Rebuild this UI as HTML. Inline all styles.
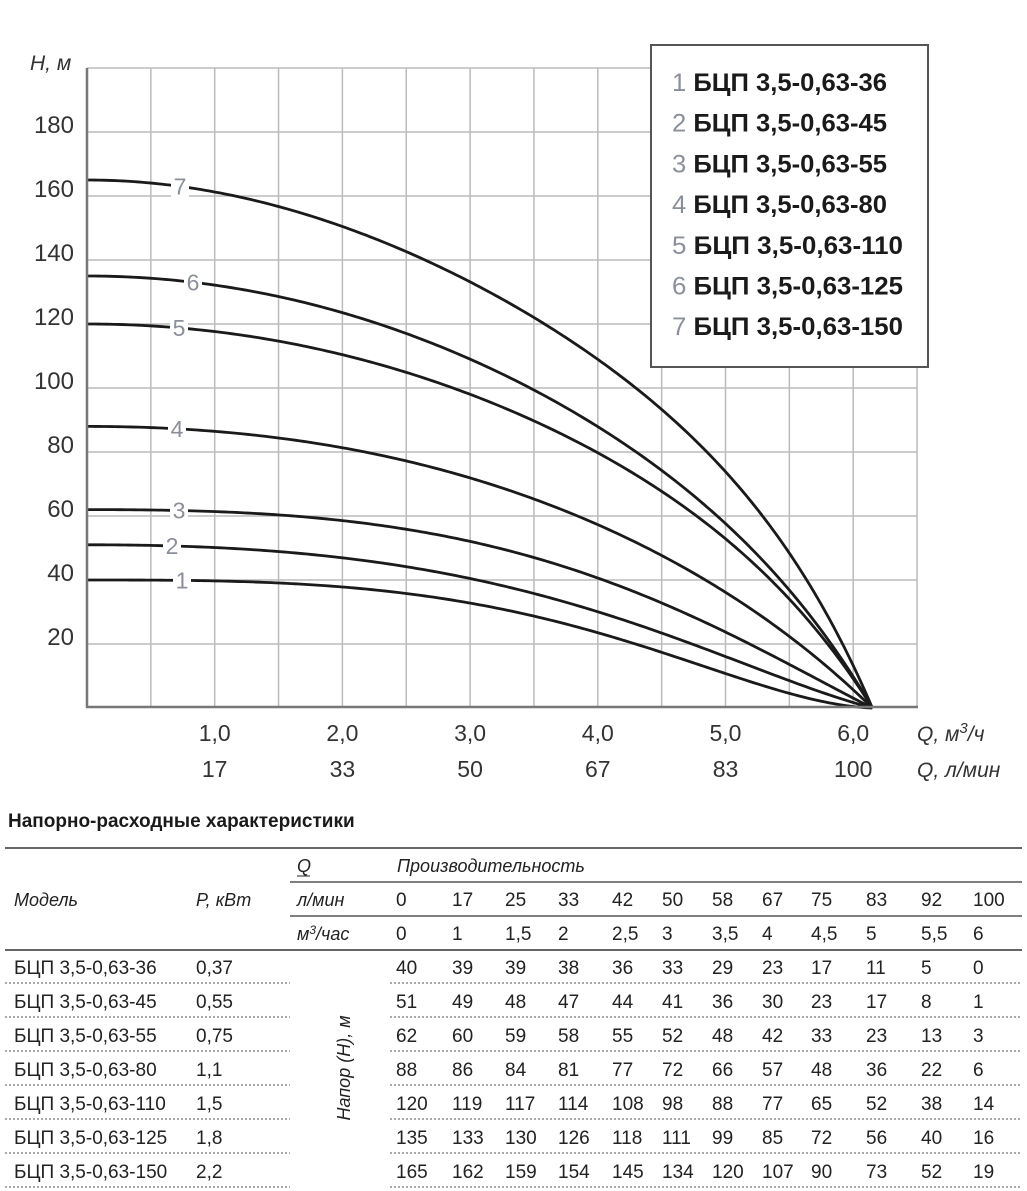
<!DOCTYPE html>
<html><head><meta charset="utf-8"><style>
body{margin:0;background:#fff;}
svg{display:block;font-family:"Liberation Sans","DejaVu Sans",sans-serif;}
</style></head><body>
<svg id="s" width="1027" height="1191" viewBox="0 0 1027 1191">
<g id="grid"></g>
<g id="curves"></g>
<g id="axes"></g>
<g id="legend"></g>
<g id="table"></g>
</svg>
<script>
const qValues=[0,1,1.5,2,2.5,3,3.5,4,4.5,5,5.5,6];
const qEnd=6.15;
const lpmLabels=["0","17","25","33","42","50","58","67","75","83","92","100"];
const m3Labels=["0","1","1,5","2","2,5","3","3,5","4","4,5","5","5,5","6"];
const models=["БЦП 3,5-0,63-36","БЦП 3,5-0,63-45","БЦП 3,5-0,63-55","БЦП 3,5-0,63-80","БЦП 3,5-0,63-110","БЦП 3,5-0,63-125","БЦП 3,5-0,63-150"];
const powers=["0,37","0,55","0,75","1,1","1,5","1,8","2,2"];
const s1=[40,39,39,38,36,33,29,23,17,11,5,0];
const s2=[51,49,48,47,44,41,36,30,23,17,8,1];
const s3=[62,60,59,58,55,52,48,42,33,23,13,3];
const s4=[88,86,84,81,77,72,66,57,48,36,22,6];
const s5=[120,119,117,114,108,98,88,77,65,52,38,14];
const s6=[135,133,130,126,118,111,99,85,72,56,40,16];
const s7=[165,162,159,154,145,134,120,107,90,73,52,19];
const series=[s1,s2,s3,s4,s5,s6,s7];
const yTicks=[20,40,60,80,100,120,140,160,180];
const xTicksM3=["1,0","2,0","3,0","4,0","5,0","6,0"];
const xTicksL=["17","33","50","67","83","100"];
const xTickVals=[1,2,3,4,5,6];

const NS="http://www.w3.org/2000/svg";
const X=q=>87+q*127.7, Y=h=>708-h*3.2;
function el(t,a,p,txt){const e=document.createElementNS(NS,t);for(const k in a)e.setAttribute(k,a[k]);if(txt!==undefined)e.textContent=txt;p.appendChild(e);return e;}
const G=document.getElementById('grid'),C=document.getElementById('curves'),A=document.getElementById('axes'),L=document.getElementById('legend'),T=document.getElementById('table');
// smooth fit: drop D(u) = H0 - H as combination of u^2, u^3, u^8 (flat start, steep end)
const basisPow=[2,3,8];
function fit(us,ds,ws){const n=basisPow.length;const M=[];for(let i=0;i<n;i++)M.push(new Array(n+1).fill(0));
 us.forEach((u,k)=>{const b=basisPow.map(p=>Math.pow(u,p));for(let i=0;i<n;i++){for(let j=0;j<n;j++)M[i][j]+=ws[k]*b[i]*b[j];M[i][n]+=ws[k]*ds[k]*b[i];}});
 for(let i=0;i<n;i++){let p=i;for(let r=i+1;r<n;r++)if(Math.abs(M[r][i])>Math.abs(M[p][i]))p=r;[M[i],M[p]]=[M[p],M[i]];
  for(let r=0;r<n;r++){if(r===i)continue;const f=M[r][i]/M[i][i];for(let c=i;c<=n;c++)M[r][c]-=f*M[i][c];}}
 return M.map((r,i)=>r[n]/r[i]);}
function ev(c,u){return c.reduce((s,a,i)=>s+a*Math.pow(u,basisPow[i]),0);}
// grid
for(let i=1;i<=13;i++){const x=87+i*63.85;const e=el('line',{x1:x,x2:x,y1:68,y2:708,stroke:'#bbb','stroke-width':1.5},G);
}
for(let h=20;h<=180;h+=20){const e=el('line',{x1:87,x2:917,y1:Y(h),y2:Y(h),stroke:'#bbb','stroke-width':1.5},G);
}
el('line',{x1:87,x2:917,y1:68,y2:68,stroke:'#bbb','stroke-width':1.5},G);
el('line',{x1:87,x2:87,y1:68,y2:708,stroke:'#777','stroke-width':2.5},A);
el('line',{x1:86,x2:918,y1:707,y2:707,stroke:'#777','stroke-width':2.5},A);
yTicks.forEach(v=>{const e=el('text',{x:74,y:Y(v)+1,'text-anchor':'end','font-size':24,fill:'#333'},A,String(v));
});
let yt=el('text',{x:30,y:70,'font-size':21,'font-style':'italic',fill:'#333'},A,'H, м');

xTickVals.forEach((v,i)=>{let e=el('text',{x:X(v),y:741,'text-anchor':'middle','font-size':23,fill:'#333'},A,xTicksM3[i]);

e=el('text',{x:X(v),y:777,'text-anchor':'middle','font-size':23,fill:'#333'},A,xTicksL[i]);
});
let xt=el('text',{x:917,y:741,'font-size':21,'font-style':'italic',fill:'#333'},A);xt.innerHTML='Q, м<tspan dy="-8" font-size="15">3</tspan><tspan dy="8">/ч</tspan>';

xt=el('text',{x:917,y:777,'font-size':21,'font-style':'italic',fill:'#333'},A,'Q, л/мин');

// curves
const labelX=[182,172,179,177,179,193,180];
series.forEach((s,si)=>{
 const H0=s[0];
 const us=qValues.map(q=>q/qEnd).concat([1]);
 const ds=s.map(v=>H0-v).concat([H0]);
 const ws=us.map((u,i)=>i===us.length-1?100:1);
 const c=fit(us,ds,ws);
 let d='';
 for(let k=0;k<=200;k++){const u=k/200;let h=H0-ev(c,u);if(k===200)h=0;d+=(k?'L':'M')+X(u*qEnd).toFixed(2)+','+Y(h).toFixed(2);}
 const p=el('path',{d:d,fill:'none',stroke:'#1a1a1a','stroke-width':2.8,'stroke-linejoin':'round'},C);
 
 const lx=labelX[si];const h=H0-ev(c,(lx-87)/127.7/qEnd);const ly=Y(h);
 el('rect',{x:lx-9,y:ly-12,width:18,height:24,fill:'#fff'},C);
 const t=el('text',{x:lx,y:ly+8,'text-anchor':'middle','font-size':23,fill:'#8a8f99'},C,String(si+1));
 
});
// legend
el('rect',{x:651,y:45,width:277,height:322,fill:'#fff',stroke:'#555','stroke-width':2},L);
models.forEach((m,i)=>{const t=el('text',{x:672,y:91+i*40.7,'font-size':25,'font-weight':'bold',fill:'#1a1a1a',textLength:i<4?215:231,lengthAdjust:'spacingAndGlyphs'},L);
t.innerHTML=`<tspan fill="#8a8f99" font-weight="normal">${i+1}</tspan> ${m}`;
});
// table
let ti=el('text',{x:8,y:827,'font-size':19,'font-weight':'bold',fill:'#1a1a1a'},T,'Напорно-расходные характеристики');

el('line',{x1:5,x2:1022,y1:848,y2:848,stroke:'#333','stroke-width':1.5},T);
el('line',{x1:290,x2:1022,y1:882,y2:882,stroke:'#333','stroke-width':1.2},T);
el('line',{x1:290,x2:1022,y1:916,y2:916,stroke:'#333','stroke-width':1.2},T);
el('line',{x1:5,x2:1022,y1:950,y2:950,stroke:'#333','stroke-width':1.5},T);
const it={'font-size':18,'font-style':'italic',fill:'#222'};
el('text',Object.assign({x:14,y:906},it),T,'Модель');
el('text',Object.assign({x:196,y:906},it),T,'P, кВт');
el('text',Object.assign({x:297,y:872},it),T,'Q');
el('line',{x1:297,x2:310,y1:876,y2:876,stroke:'#222','stroke-width':1},T);
el('text',Object.assign({x:397,y:872},it),T,'Производительность');
el('text',Object.assign({x:297,y:906},it),T,'л/мин');
let mh=el('text',Object.assign({x:297,y:940},it),T);mh.innerHTML='м<tspan dy="-6" font-size="12">3</tspan><tspan dy="6">/час</tspan>';
const colX=[396,452,505,558,612,662,712,762,811,866,921,973];
lpmLabels.forEach((v,i)=>{el('text',{x:colX[i],y:906,'font-size':19,fill:'#222'},T,v);});
m3Labels.forEach((v,i)=>{el('text',{x:colX[i],y:940,'font-size':19,fill:'#222'},T,v);});
let vt=el('text',Object.assign({x:0,y:0,transform:'translate(350,1068) rotate(-90)','text-anchor':'middle'},it),T,'Напор (H), м');

series.forEach((s,r)=>{const y=974+r*34;
 const row=el('g',{},T);
 el('text',{x:14,y:y,'font-size':19,fill:'#222'},row,models[r]);
 el('text',{x:196,y:y,'font-size':19,fill:'#222'},row,powers[r]);
 s.forEach((v,i)=>el('text',{x:colX[i],y:y,'font-size':19,fill:'#222'},row,String(v)));
 const ly=y+9;
 el('line',{x1:5,x2:290,y1:ly,y2:ly,stroke:'#555','stroke-width':1,'stroke-dasharray':'2,2'},row);
 el('line',{x1:390,x2:1022,y1:ly,y2:ly,stroke:'#555','stroke-width':1,'stroke-dasharray':'2,2'},row);
});
</script>
</body></html>
